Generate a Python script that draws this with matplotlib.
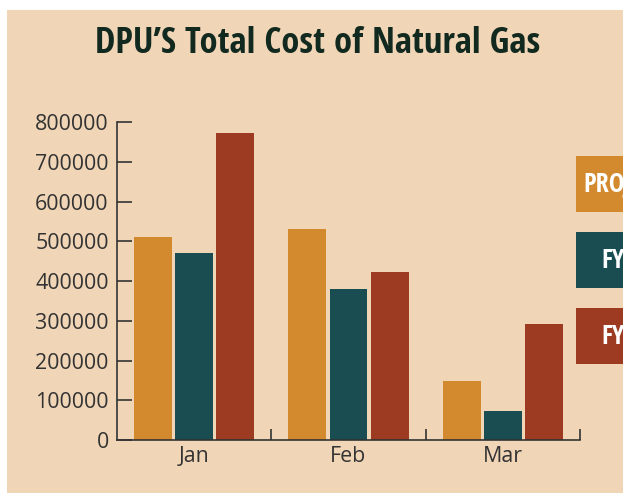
import matplotlib
matplotlib.use("Agg")
import matplotlib.pyplot as plt
from matplotlib.patches import Rectangle
from matplotlib import font_manager as fm
import numpy as np

months = ["Jan", "Feb", "Mar"]
series_names = ["PROJECTED", "FY2022", "FY2023"]
projected = [511000, 531000, 149000]
fy_a = [471000, 380000, 73000]
fy_b = [773000, 423000, 292000]
yticks = [0, 100000, 200000, 300000, 400000, 500000, 600000, 700000, 800000]

colors = ["#d38a2e", "#1a4d52", "#9c3a22"]
bg = "#f0d5b7"
dark = "#333333"
title_col = "#11291f"
body = ["Open Sans", "DejaVu Sans"]


def pick_condensed_bold():
    prefs = ["Open Sans Condensed", "Roboto Condensed", "Liberation Sans Narrow",
             "DejaVu Sans Condensed", "Noto Sans Condensed"]
    cands = []
    for f in fm.fontManager.ttflist:
        fn = f.fname.lower()
        nm = f.name
        is_cond = ("condensed" in fn or "narrow" in fn or "cond" in nm.lower()
                   or "narrow" in nm.lower() or f.stretch in ("condensed", "semi-condensed",
                                                              "extra-condensed", 300, 400))
        w = f.weight if isinstance(f.weight, int) else (700 if "bold" in str(f.weight) else 400)
        if is_cond and w >= 600 and "oblique" not in fn and "italic" not in fn:
            cands.append(f)
    if not cands:
        return fm.FontProperties(family="DejaVu Sans", weight="bold")
    def score(f):
        for i, p in enumerate(prefs):
            if p.lower().replace(" ", "") in (f.name + f.fname).lower().replace(" ", ""):
                return i
        return len(prefs)
    cands.sort(key=score)
    return fm.FontProperties(fname=cands[0].fname)


cond_fp = pick_condensed_bold()

W, H = 623, 493
fig = plt.figure(figsize=(W / 100, H / 100), dpi=100)
fig.patch.set_facecolor("white")
fig.patches.append(Rectangle((7 / W, 0), 1, 1 - 10 / H, transform=fig.transFigure,
                             facecolor=bg, edgecolor="none", zorder=-5))

ax = fig.add_axes([117 / W, 1 - 440 / H, (580 - 117) / W, (440 - 122.3) / H])
ax.set_facecolor("none")
ax.set_zorder(2)

x = np.arange(len(months))
bw = 0.246
off = 0.266
for i, vals in enumerate([projected, fy_a, fy_b]):
    ax.bar(x + (i - 1) * off, vals, width=bw, color=colors[i], zorder=2)

ax.set_xlim(-0.5, 2.5)
ax.set_ylim(0, 800000)
ax.set_yticks(yticks)
ax.set_yticklabels([str(v) for v in yticks], fontfamily=body, fontsize=15.4, color=dark)
ax.set_xticks(x)
ax.set_xticklabels(months, fontfamily=body, fontsize=15.4, color=dark)
ax.tick_params(axis="x", length=0, pad=4)
ax.tick_params(axis="y", direction="in", length=11, width=1.2, color=dark, pad=6)
ax.set_xticks([0.5, 1.5, 2.5], minor=True)
ax.tick_params(axis="x", which="minor", direction="in", length=8, width=1.2, color=dark)
for s in ["top", "right"]:
    ax.spines[s].set_visible(False)
for s in ["left", "bottom"]:
    ax.spines[s].set_color(dark)
    ax.spines[s].set_linewidth(1.2)

title = fig.text(318 / W, 1 - 44 / H, "DPU\u2019S Total Cost of Natural Gas", ha="center",
                 va="center", fontproperties=cond_fp, fontsize=29, color=title_col, zorder=3)
fig.canvas.draw()
r = fig.canvas.get_renderer()
tw = title.get_window_extent(r).width
title.set_fontsize(29 * 444 / tw)

# legend boxes (clipped by figure edge, as in the reference)
box_tops = [156, 232, 308]
for name, c, t in zip(series_names, colors, box_tops):
    fig.patches.append(Rectangle((576 / W, 1 - (t + 56) / H), 150 / W, 56 / H,
                                 transform=fig.transFigure, facecolor=c, edgecolor="none",
                                 zorder=1))
    fig.text(583 / W, 1 - (t + 29) / H, name, ha="left", va="center",
             fontproperties=cond_fp, fontsize=19, color="white", zorder=3)

fig.canvas.draw()
ws = [t.get_window_extent(r).width for t in fig.texts[1:]]
center = 583 + ws[0] / 2
for t, w in zip(fig.texts[1:], ws):
    t.set_x((center - w / 2) / W)

fig.savefig("out.png", dpi=100, facecolor=fig.get_facecolor())
